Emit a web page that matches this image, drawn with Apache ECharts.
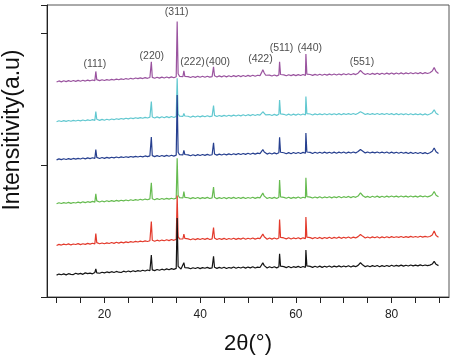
<!DOCTYPE html>
<html><head><meta charset="utf-8">
<script src="https://cdn.jsdelivr.net/npm/echarts@6/dist/echarts.min.js"></script>
<style>html,body{margin:0;padding:0;background:#fff}#c{width:456px;height:360px}</style>
</head><body><div id="c"></div>
<script>
// 2θ positions shared by all patterns
const twoTheta = [
 10,10.5,11,11.5,12,12.5,13,13.5,14,14.5,15,15.5,16,16.5,17,17.5,18,18.2,18.4,19,19.5,
 20,20.5,21,21.5,22,22.5,23,23.5,24,24.5,25,25.5,26,26.5,27,27.5,28,28.5,29,29.5,29.65,29.8,30,30.5,
 31,31.5,32,32.5,33,33.5,34,34.5,35,35.2,35.4,35.7,36,36.4,36.6,36.8,37,37.5,
 38,38.5,39,39.5,40,40.5,41,41.5,42,42.5,42.65,42.8,43,43.5,44,44.5,45,45.5,46,46.5,47,47.5,48,48.5,49,49.5,50,50.5,51,51.5,52,
 52.5,52.8,53.1,53.4,53.7,54,54.5,55,55.5,56,56.45,56.6,56.8,57,57.5,58,58.5,59,59.5,60,60.5,61,61.5,62,62.1,62.3,62.5,
 63,63.5,64,64.5,65,65.5,66,66.5,67,67.5,68,68.5,69,69.5,70,70.5,71,71.5,72,72.5,73,73.5,74,74.5,75,75.5,76,76.5,77,77.5,
 78,78.5,79,79.5,80,80.5,81,81.5,82,82.5,83,83.5,84,84.5,85,85.5,86,86.5,87,87.5,88,88.5,88.9,89.3,89.8
];
const blackPattern = [
 166,174,169,175,168,177,172,170,180,174,179,172,183,177,181,176,186,214,183,180,188,
 183,190,185,192,186,194,188,186,196,190,197,191,199,193,200,195,203,197,205,199,203,318,206,200,
 209,203,211,205,213,207,215,210,217,600,232,221,212,220,260,222,213,221,
 214,222,216,224,215,223,218,225,217,221,226,308,226,217,225,218,226,216,224,219,227,218,226,220,228,219,227,221,229,220,227,
 224,236,259,238,226,220,229,222,230,221,230,327,234,222,230,223,231,222,230,225,232,224,231,225,357,236,226,
 232,225,233,226,234,225,233,227,235,226,234,228,236,227,235,229,237,228,236,230,240,260,242,230,237,229,238,231,239,230,
 238,231,239,232,241,233,240,234,242,234,241,235,243,236,242,236,244,237,243,238,242,250,270,248,238
];
const redPattern = [
 391,399,394,401,396,403,395,402,398,405,397,404,399,407,401,408,403,481,412,404,410,
 404,411,406,413,407,415,409,416,411,418,413,420,415,422,417,424,419,426,421,427,425,572,430,423,
 431,425,432,427,434,428,436,430,437,770,458,441,432,440,477,444,433,441,
 434,442,435,443,436,444,437,445,436,441,446,527,447,436,444,437,445,436,444,438,446,437,445,439,447,438,446,440,448,439,446,
 443,458,477,457,445,438,447,439,448,440,448,588,452,440,448,441,449,440,448,442,450,441,449,443,606,454,443,
 450,443,451,444,452,443,451,445,453,444,452,446,454,445,453,447,455,446,454,448,458,474,460,448,455,447,456,449,457,448,
 456,449,457,450,458,451,457,452,459,451,458,452,460,453,459,453,461,454,460,455,459,470,500,466,454
];
const greenPattern = [
 707,715,709,716,711,718,710,717,713,720,714,722,716,723,718,725,720,782,729,721,728,
 722,730,724,731,725,733,727,734,729,736,730,738,732,739,734,741,736,743,738,744,742,866,745,738,
 746,740,747,741,748,742,749,743,750,1052,772,753,744,752,800,756,745,753,
 746,754,747,755,746,754,748,756,747,752,757,834,757,746,754,747,755,746,755,748,756,747,755,748,756,747,755,749,757,748,756,
 752,766,788,765,754,747,755,748,756,747,756,887,760,748,756,749,757,748,756,750,758,749,757,751,904,761,750,
 758,751,759,752,760,751,759,753,761,752,760,754,762,753,761,755,763,754,762,756,766,790,768,756,763,755,764,757,765,756,
 764,757,765,758,766,759,765,758,766,759,765,758,766,759,765,758,767,760,766,759,765,776,800,772,760
];
const bluePattern = [
 1040,1048,1042,1049,1043,1050,1044,1051,1046,1052,1047,1054,1048,1055,1050,1056,1051,1118,1059,1051,1058,
 1052,1059,1053,1060,1055,1062,1056,1063,1058,1064,1059,1066,1061,1067,1062,1068,1063,1070,1065,1071,1069,1214,1072,1065,
 1072,1066,1073,1067,1074,1068,1075,1069,1076,1533,1098,1079,1069,1078,1112,1081,1070,1078,
 1071,1079,1072,1080,1073,1081,1074,1082,1075,1079,1084,1170,1085,1076,1084,1077,1085,1078,1086,1079,1087,1080,1088,1081,1089,1082,1090,1083,1091,1084,1091,
 1088,1102,1118,1100,1090,1084,1092,1085,1093,1086,1094,1212,1098,1086,1094,1087,1095,1087,1096,1088,1096,1089,1097,1090,1243,1100,1090,
 1097,1089,1098,1090,1098,1090,1099,1091,1098,1090,1099,1091,1099,1092,1100,1091,1099,1092,1100,1093,1104,1119,1106,1093,1100,1092,1099,1093,1100,1092,
 1099,1092,1100,1091,1099,1091,1098,1090,1098,1090,1097,1089,1097,1089,1096,1088,1096,1088,1095,1087,1094,1106,1130,1102,1088
];
const cyanPattern = [
 1329,1337,1331,1338,1332,1339,1333,1340,1335,1341,1336,1343,1337,1344,1339,1345,1340,1406,1348,1340,1347,
 1341,1348,1343,1350,1345,1352,1347,1354,1349,1356,1351,1358,1353,1360,1355,1361,1356,1363,1358,1364,1362,1483,1365,1358,
 1366,1359,1367,1360,1368,1361,1369,1362,1370,1659,1388,1372,1362,1370,1392,1373,1363,1371,
 1364,1372,1365,1373,1366,1374,1367,1375,1368,1372,1377,1452,1378,1369,1377,1370,1378,1371,1379,1372,1380,1373,1381,1374,1382,1375,1383,1376,1384,1377,1384,
 1380,1395,1405,1394,1382,1376,1384,1377,1385,1378,1386,1495,1389,1378,1386,1379,1387,1379,1387,1380,1388,1381,1388,1381,1521,1391,1381,
 1388,1381,1389,1382,1389,1382,1390,1382,1390,1383,1390,1383,1391,1383,1391,1384,1391,1384,1392,1384,1394,1406,1395,1384,1391,1384,1391,1384,1392,1384,
 1391,1384,1392,1384,1391,1383,1391,1383,1390,1383,1390,1382,1390,1382,1389,1382,1389,1381,1389,1381,1388,1398,1420,1394,1382
];
const purplePattern = [
 1631,1639,1632,1640,1634,1641,1635,1642,1636,1643,1637,1644,1638,1645,1640,1646,1641,1711,1649,1641,1648,
 1642,1649,1644,1651,1646,1653,1648,1655,1650,1657,1652,1659,1654,1661,1656,1662,1657,1664,1659,1665,1663,1784,1666,1659,
 1667,1660,1668,1661,1669,1662,1670,1663,1671,2089,1693,1674,1663,1671,1716,1674,1664,1672,
 1665,1673,1666,1674,1667,1675,1667,1675,1668,1672,1677,1746,1678,1669,1677,1670,1678,1670,1678,1671,1679,1672,1680,1672,1680,1673,1681,1674,1682,1674,1682,
 1679,1700,1724,1699,1682,1675,1683,1676,1684,1677,1685,1784,1688,1677,1685,1678,1686,1679,1687,1679,1687,1680,1688,1681,1844,1691,1681,
 1688,1681,1689,1682,1690,1682,1690,1683,1691,1684,1692,1684,1692,1685,1693,1686,1694,1686,1694,1687,1698,1718,1700,1688,1695,1688,1696,1689,1697,1689,
 1697,1690,1698,1691,1699,1691,1699,1692,1700,1692,1700,1693,1701,1693,1701,1694,1702,1694,1702,1695,1701,1714,1740,1710,1696
];
// peak (hkl) annotations: text, 2θ, intensity position
const peakNames = ['(111)','(220)','(311)','(222)','(400)','(422)','(511)','(440)','(551)'];
const peakX = [18.0, 29.9, 35.1, 38.4, 43.7, 52.6, 57.0, 62.9, 73.8];
const peakY = [1770, 1830, 2161, 1785, 1785, 1802, 1887, 1887, 1778];
const xLabelTicks = [20, 40, 60, 80];
const xMinorTicks = [10,15,20,25,30,35,40,45,50,55,60,65,70,75,80,85,90];

const patterns = [
 {data: purplePattern, color: '#9a549f'},
 {data: cyanPattern, color: '#62c8d0'},
 {data: bluePattern, color: '#263f8f'},
 {data: greenPattern, color: '#66bb50'},
 {data: redPattern, color: '#e33a2c'},
 {data: blackPattern, color: '#141414'}
];
const font = 'Liberation Sans, Arial, sans-serif';
const series = patterns.map(p => ({
  type: 'line', showSymbol: false, symbol: 'none',
  data: twoTheta.map((x, i) => [x, p.data[i]]),
  lineStyle: {width: 1.2, color: p.color}, itemStyle: {color: p.color},
  animation: false, silent: true
}));
series.push({
  type: 'scatter', symbolSize: 0, animation: false, silent: true,
  data: peakNames.map((n, i) => ({name: n, value: [peakX[i], peakY[i]]})),
  label: {show: true, position: 'inside', formatter: '{b}', fontSize: 10.5, color: '#1a1a1a', fontFamily: font}
});
const chart = echarts.init(document.getElementById('c'), null, {renderer: 'canvas'});
chart.setOption({
  animation: false,
  grid: {left: 47, right: 7, top: 5, bottom: 56, show: true, borderColor: '#555', borderWidth: 1},
  xAxis: {
    type: 'value', min: 8, max: 92,
    name: '2θ(°)', nameLocation: 'middle', nameGap: 36,
    nameTextStyle: {fontSize: 22, color: '#111', fontFamily: font},
    axisLine: {show: true, lineStyle: {color: '#222', width: 1}},
    axisTick: {show: true, inside: false, length: 6, customValues: xMinorTicks, lineStyle: {color: '#222'}},
    axisLabel: {show: true, customValues: xLabelTicks, fontSize: 12, color: '#222', margin: 12, fontFamily: font},
    splitLine: {show: false}
  },
  yAxis: {
    type: 'value', min: 0, max: 2215, interval: 1000,
    axisLine: {show: true, lineStyle: {color: '#222', width: 1}},
    axisTick: {show: true, inside: false, length: 6, lineStyle: {color: '#222'}},
    axisLabel: {show: false},
    splitLine: {show: false}
  },
  graphic: [{
    type: 'text', x: 13, y: 130, rotation: Math.PI / 2,
    style: {text: 'Intensitivity(a.u)', fontSize: 23, fill: '#111', fontFamily: font, align: 'center', verticalAlign: 'middle'}
  }],
  series: series
});
</script></body></html>
